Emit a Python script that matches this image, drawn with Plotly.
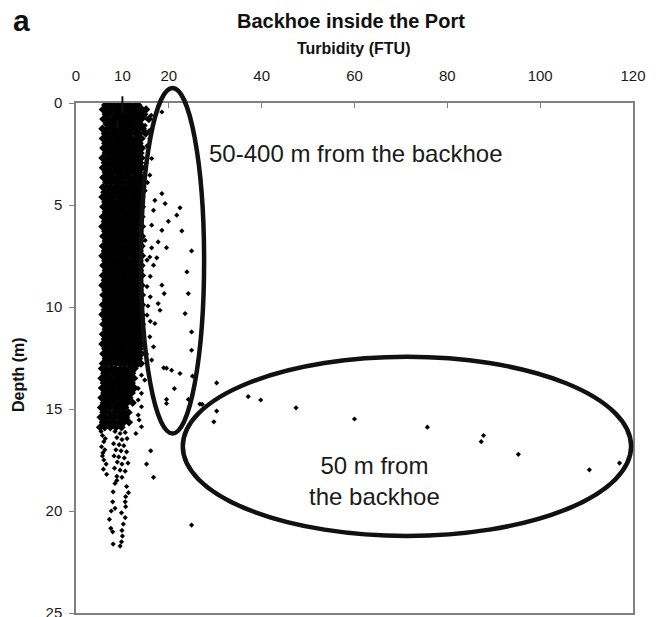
import plotly.graph_objects as go

# ---------------- data ----------------
# Dense profile: each row = one depth (m) with the turbidity readings (FTU) seen at that depth
row_depth = [0.10, 0.32, 0.55, 0.79, 1.03, 1.26, 1.50, 1.74, 1.97, 2.21, 2.45, 2.69, 2.93, 3.17,
             3.41, 3.65, 3.89, 4.13, 4.37, 4.61, 4.85, 5.09, 5.33, 5.57, 5.81, 6.05, 6.29, 6.53,
             6.77, 7.01, 7.25, 7.49, 7.73, 7.97, 8.21, 8.45, 8.69, 8.93, 9.17, 9.41, 9.65, 9.89,
             10.13, 10.37, 10.61, 10.85, 11.09, 11.33, 11.57, 11.81, 12.05, 12.29, 12.53, 12.77,
             13.01, 13.25, 13.49, 13.73, 13.97, 14.21, 14.45, 14.69, 14.93, 15.17, 15.41, 15.65, 15.89]
row_turbidity = [
    [6.3, 7.3, 8.0, 9.1, 9.8, 10.8, 11.6, 12.7, 13.4],
    [5.8, 6.9, 7.6, 8.6, 9.5, 10.2, 11.3, 12.1, 13.1, 14.2, 15.1],
    [6.4, 7.2, 8.3, 9.0, 10.1, 10.9, 11.9, 12.6, 13.7, 14.7],
    [5.9, 6.8, 7.9, 8.7, 9.5, 10.6, 11.4, 12.4, 13.2, 14.1, 15.7],
    [6.6, 7.4, 8.2, 9.3, 10.0, 11.1, 11.8, 12.9, 13.8],
    [5.7, 6.7, 7.7, 8.5, 9.6, 10.4, 11.3, 12.2, 13.3, 14.4],
    [6.2, 7.0, 8.1, 8.9, 9.9, 10.7, 11.7, 12.8, 13.6, 15.0],
    [5.8, 6.6, 7.5, 8.4, 9.4, 10.3, 11.2, 12.0, 13.1, 14.1],
    [6.3, 7.2, 8.2, 9.0, 10.0, 10.8, 11.9, 12.6, 13.7],
    [5.9, 6.8, 7.6, 8.7, 9.5, 10.5, 11.4, 12.4, 13.2, 14.2],
    [6.4, 7.3, 8.1, 9.2, 10.1, 11.0, 11.8, 12.9, 13.9],
    [5.7, 6.8, 7.8, 8.6, 9.7, 10.5, 11.5, 12.3, 13.3, 14.1],
    [6.2, 7.1, 8.2, 9.1, 9.9, 10.9, 11.9, 12.8, 13.8],
    [5.8, 6.7, 7.6, 8.5, 9.5, 10.3, 11.3, 12.2, 13.1, 14.2],
    [6.4, 7.2, 8.0, 9.0, 9.9, 11.0, 11.7, 12.7, 13.6],
    [5.9, 6.9, 7.7, 8.7, 9.6, 10.4, 11.4, 12.4, 13.3, 14.2],
    [6.5, 7.4, 8.3, 9.2, 10.1, 11.1, 12.0, 12.9, 13.8],
    [5.8, 6.7, 7.6, 8.6, 9.4, 10.4, 11.4, 12.3, 13.2, 14.3],
    [6.1, 7.1, 8.0, 9.0, 9.9, 10.8, 11.7, 12.7, 13.7],
    [5.7, 6.6, 7.6, 8.4, 9.4, 10.3, 11.2, 12.2, 13.1, 14.1],
    [6.3, 7.2, 8.1, 9.1, 10.0, 10.9, 11.8, 12.6, 13.6],
    [5.9, 6.8, 7.8, 8.6, 9.6, 10.5, 11.5, 12.4, 13.3, 14.2],
    [6.4, 7.3, 8.2, 9.1, 10.1, 10.9, 11.9, 12.8, 13.8],
    [5.8, 6.7, 7.6, 8.6, 9.5, 10.4, 11.3, 12.3, 13.2, 14.1],
    [6.2, 7.1, 8.1, 9.0, 9.8, 10.8, 11.8, 12.7, 13.7],
    [5.7, 6.6, 7.6, 8.5, 9.4, 10.4, 11.2, 12.2, 13.1, 14.2],
    [6.3, 7.2, 8.1, 9.1, 10.0, 10.9, 11.8, 12.7, 13.6],
    [5.9, 6.8, 7.7, 8.7, 9.6, 10.5, 11.4, 12.3, 13.3, 14.2],
    [6.4, 7.3, 8.3, 9.2, 10.1, 11.0, 11.9, 12.9, 13.8],
    [5.8, 6.7, 7.7, 8.6, 9.5, 10.4, 11.3, 12.3, 13.2, 14.1],
    [6.2, 7.2, 8.1, 9.0, 9.9, 10.9, 11.8, 12.7, 13.7],
    [5.7, 6.6, 7.6, 8.5, 9.4, 10.3, 11.2, 12.2, 13.1, 14.2],
    [6.3, 7.2, 8.2, 9.1, 10.0, 10.9, 11.9, 12.8, 13.7],
    [5.9, 6.8, 7.7, 8.7, 9.6, 10.5, 11.4, 12.3, 13.3, 14.1],
    [6.4, 7.3, 8.2, 9.1, 10.1, 11.0, 11.9, 12.8, 13.8],
    [5.8, 6.7, 7.7, 8.6, 9.5, 10.4, 11.4, 12.3, 13.2, 14.2],
    [6.2, 7.1, 8.1, 9.0, 9.9, 10.8, 11.7, 12.7, 13.6],
    [5.7, 6.6, 7.6, 8.5, 9.5, 10.4, 11.3, 12.2, 13.1, 14.1],
    [6.3, 7.2, 8.1, 9.1, 10.0, 10.9, 11.8, 12.8, 13.7],
    [5.9, 6.8, 7.8, 8.7, 9.6, 10.5, 11.5, 12.4, 13.3, 14.2],
    [6.4, 7.3, 8.2, 9.2, 10.1, 11.0, 11.9, 12.9, 13.8],
    [5.8, 6.7, 7.6, 8.6, 9.5, 10.4, 11.3, 12.3, 13.2, 14.2],
    [6.2, 7.2, 8.1, 9.0, 9.9, 10.9, 11.8, 12.7, 13.6],
    [5.7, 6.7, 7.6, 8.5, 9.4, 10.4, 11.3, 12.2, 13.1, 14.1],
    [6.3, 7.2, 8.2, 9.1, 10.0, 10.9, 11.9, 12.8, 13.7],
    [5.9, 6.8, 7.7, 8.7, 9.6, 10.5, 11.4, 12.3, 13.3, 14.2],
    [6.4, 7.3, 8.2, 9.1, 10.1, 11.0, 11.9, 12.8, 13.8],
    [5.8, 6.7, 7.7, 8.6, 9.5, 10.4, 11.4, 12.3, 13.2, 14.2],
    [6.2, 7.1, 8.1, 9.0, 9.9, 10.8, 11.7, 12.7, 13.6],
    [5.7, 6.6, 7.6, 8.5, 9.5, 10.4, 11.3, 12.2, 13.1, 14.1],
    [6.3, 7.2, 8.1, 9.1, 10.0, 10.9, 11.8, 12.8, 13.7],
    [5.9, 6.8, 7.8, 8.7, 9.6, 10.5, 11.5, 12.4, 13.3, 14.1],
    [6.4, 7.3, 8.2, 9.2, 10.1, 11.0, 11.9, 12.9, 13.6],
    [5.8, 6.7, 7.6, 8.6, 9.5, 10.4, 11.3, 12.3, 13.2, 14.0],
    [5.6, 6.5, 7.5, 8.4, 9.6, 10.5, 11.6, 12.6],
    [6.1, 7.0, 8.0, 9.0, 10.0, 11.1, 12.1],
    [5.5, 6.4, 7.4, 8.5, 9.4, 10.6, 11.5, 12.5],
    [6.0, 6.9, 7.9, 8.9, 9.9, 11.0, 12.0],
    [5.6, 6.5, 7.5, 8.4, 9.4, 10.4, 11.4, 12.6],
    [6.1, 7.1, 8.0, 9.0, 10.0, 10.9, 12.0],
    [5.5, 6.5, 7.6, 8.5, 9.5, 10.5, 11.5],
    [6.0, 7.0, 8.1, 9.1, 10.1, 11.0, 12.2],
    [5.4, 6.4, 7.4, 8.6, 9.6, 10.6],
    [5.9, 7.0, 8.1, 9.1, 10.2, 11.3],
    [5.3, 6.3, 7.5, 8.5, 9.7, 10.8],
    [5.8, 6.8, 8.0, 9.2, 10.3, 11.4],
    [5.2, 6.2, 7.4, 8.6, 9.8],
]

# Scattered readings (turbidity FTU, depth m) beside the dense profile
near_core_points = [
    (15.0, 0.30), (16.2, 0.60), (18.5, 0.44), (15.2, 0.77), (14.9, 1.10), (15.8, 1.35),
    (15.9, 1.75), (15.3, 2.10), (16.3, 2.72), (15.1, 2.95), (15.9, 3.54), (15.4, 3.90),
    (14.9, 4.30), (18.5, 4.44), (17.0, 4.77), (19.2, 4.93), (22.4, 5.14), (16.7, 5.26),
    (21.7, 5.50), (19.9, 5.80), (16.3, 5.99), (18.5, 6.24), (22.8, 6.27), (14.9, 6.73),
    (17.7, 6.81), (16.3, 7.10), (19.5, 7.09), (24.9, 7.25), (15.9, 7.55), (17.4, 7.59),
    (15.3, 7.70), (16.7, 7.95), (23.9, 8.28), (16.0, 8.50), (18.5, 8.93), (15.3, 9.00),
    (19.0, 9.34), (24.2, 9.34), (16.0, 9.50), (17.7, 9.83), (15.5, 9.95), (18.1, 10.16),
    (23.5, 10.32), (15.3, 10.40), (17.0, 10.81), (16.0, 10.70), (24.9, 11.22), (15.9, 11.46),
    (16.7, 11.95), (24.9, 12.12), (15.2, 12.30), (16.3, 12.60),
    (13.4, 12.85), (14.1, 13.34), (14.8, 13.58), (13.4, 13.99), (14.1, 14.23), (13.4, 14.56),
    (14.1, 14.89), (13.4, 15.30), (13.6, 15.54), (14.1, 15.87), (12.9, 16.20),
]
# Readings within a few hundred metres, 12-16 m deep
mid_points = [
    (18.9, 12.98), (19.5, 13.00), (20.6, 13.10), (22.4, 13.26), (25.1, 13.39), (30.3, 13.72),
    (21.2, 14.00), (19.5, 14.53), (19.5, 14.73), (24.2, 14.53), (26.7, 14.76), (27.2, 14.77),
    (30.3, 15.10), (29.7, 15.63), (16.1, 17.05), (15.2, 17.70), (16.7, 18.35), (24.9, 20.69),
]
# Readings 50 m from the backhoe
plume_points = [
    (37.1, 14.39), (39.8, 14.56), (47.4, 14.94), (60.0, 15.49), (75.7, 15.89), (87.8, 16.30),
    (87.3, 16.60), (95.3, 17.22), (110.6, 17.98), (117.1, 17.65),
]
# Deep part of the profile (16-22 m)
deep_points = [
    (5.4, 16.10), (6.3, 16.45), (5.7, 16.30), (6.0, 16.60), (5.5, 16.85), (6.2, 17.00),
    (5.8, 17.15), (5.7, 17.30), (6.0, 17.50), (6.5, 17.70), (5.9, 17.95), (6.6, 18.20),
    (8.4, 16.10), (9.5, 16.20), (10.6, 16.15), (8.8, 16.40), (9.9, 16.50), (11.0, 16.45),
    (8.1, 16.70), (9.3, 16.75), (10.3, 16.80), (8.6, 17.00), (9.7, 17.05), (10.9, 17.10),
    (8.2, 17.30), (9.2, 17.35), (10.4, 17.40), (8.9, 17.60), (9.9, 17.70), (11.2, 17.65),
    (8.3, 17.90), (9.5, 18.00), (10.6, 18.05), (8.8, 18.30), (9.9, 18.35), (8.4, 18.65),
    (8.8, 18.50), (10.9, 18.80), (8.0, 19.06), (11.3, 19.10), (10.7, 19.30), (7.9, 19.55),
    (10.6, 19.55), (10.7, 19.79), (8.4, 19.87), (7.6, 20.00), (9.8, 20.09), (10.6, 20.32),
    (7.2, 20.41), (10.2, 20.64), (7.5, 20.85), (9.9, 20.95), (7.9, 21.02), (10.0, 21.23),
    (9.8, 21.51), (8.0, 21.62), (9.5, 21.72),
]

x_tick_values = [0, 10, 20, 40, 60, 80, 100, 120]
y_tick_values = [0, 5, 10, 15, 20, 25]
x_range = [0, 120]
y_range = [25, 0]

# Ellipses drawn round the two groups (turbidity / depth extents)
ellipse_near = dict(x0=14.0, x1=27.6, y0=-0.73, y1=16.2)
ellipse_far = dict(x0=23.0, x1=119.6, y0=12.44, y1=21.22)
label_near = "50-400 m from the backhoe"
label_far = "50 m from<br>the backhoe"

# ---------------- figure ----------------
core_x = [t for row in row_turbidity for t in row]
core_y = [d for d, row in zip(row_depth, row_turbidity) for _ in row]
sparse = near_core_points + mid_points + plume_points + deep_points
sp_x = [p[0] for p in sparse]
sp_y = [p[1] for p in sparse]

FONT = "Liberation Sans, Arial, sans-serif"
fig = go.Figure()
fig.add_trace(go.Scatter(x=core_x, y=core_y, mode="markers",
                         marker=dict(symbol="diamond", size=6.5, color="#000000"),
                         showlegend=False, hoverinfo="skip"))
fig.add_trace(go.Scatter(x=sp_x, y=sp_y, mode="markers",
                         marker=dict(symbol="diamond", size=4, color="#000000"),
                         showlegend=False, hoverinfo="skip"))


def to_paper_x(v):
    return (v - x_range[0]) / (x_range[1] - x_range[0])


def to_paper_y(v):
    return (y_range[0] - v) / (y_range[0] - y_range[1])


for e in (ellipse_near, ellipse_far):
    fig.add_shape(type="circle", xref="paper", yref="paper",
                  x0=to_paper_x(e["x0"]), x1=to_paper_x(e["x1"]),
                  y0=to_paper_y(e["y1"]), y1=to_paper_y(e["y0"]),
                  line=dict(color="#111111", width=4.5), layer="above")

# marker line at 10 FTU crossing the top frame
fig.add_shape(type="line", xref="paper", yref="paper",
              x0=to_paper_x(10), x1=to_paper_x(10),
              y0=to_paper_y(0.5), y1=to_paper_y(-0.33),
              line=dict(color="#111111", width=2))

fig.add_annotation(x=28.2, y=2.46, xref="x", yref="y", text=label_near, showarrow=False,
                   xanchor="left", yanchor="middle",
                   font=dict(family=FONT, size=24, color="#1a1a1a"))
fig.add_annotation(x=64.4, y=18.53, xref="x", yref="y", text=label_far, showarrow=False,
                   xanchor="center", yanchor="middle",
                   font=dict(family=FONT, size=24, color="#1a1a1a"))

fig.add_annotation(x=-0.098, y=1.161, xref="paper", yref="paper", text="<b>a</b>",
                   showarrow=False, xanchor="center", yanchor="middle",
                   font=dict(family=FONT, size=30, color="#111111"))
fig.add_annotation(x=0.494, y=1.161, xref="paper", yref="paper",
                   text="<b>Backhoe inside the Port</b>", showarrow=False,
                   xanchor="center", yanchor="middle",
                   font=dict(family=FONT, size=20, color="#111111"))
fig.add_annotation(x=0.499, y=1.106, xref="paper", yref="paper",
                   text="<b>Turbidity (FTU)</b>", showarrow=False,
                   xanchor="center", yanchor="middle",
                   font=dict(family=FONT, size=16, color="#111111"))
fig.add_annotation(x=-0.102, y=0.467, xref="paper", yref="paper",
                   text="<b>Depth (m)</b>", showarrow=False, textangle=-90,
                   xanchor="center", yanchor="middle",
                   font=dict(family=FONT, size=16, color="#111111"))

axis_common = dict(showgrid=False, zeroline=False, showline=True, linecolor="#808080",
                   linewidth=1.5, mirror=True, tickcolor="#808080", ticklen=5, tickwidth=1,
                   ticklabeloverflow="allow", automargin=False,
                   tickfont=dict(family=FONT, size=15, color="#1a1a1a"))
fig.update_xaxes(range=x_range, side="top", tickmode="array", tickvals=x_tick_values,
                 ticks="inside", ticklabelstandoff=14, **axis_common)
fig.update_yaxes(range=y_range, tickmode="array", tickvals=y_tick_values,
                 ticks="outside", ticklabelstandoff=4, **axis_common)

fig.update_layout(width=662, height=617, margin=dict(l=76, r=29, t=103, b=4),
                  paper_bgcolor="white", plot_bgcolor="white",
                  font=dict(family=FONT, color="#111111"))
fig.write_html("out.html", config={"displayModeBar": False},
               post_script="document.body.style.margin='0';document.body.style.padding='0';")
